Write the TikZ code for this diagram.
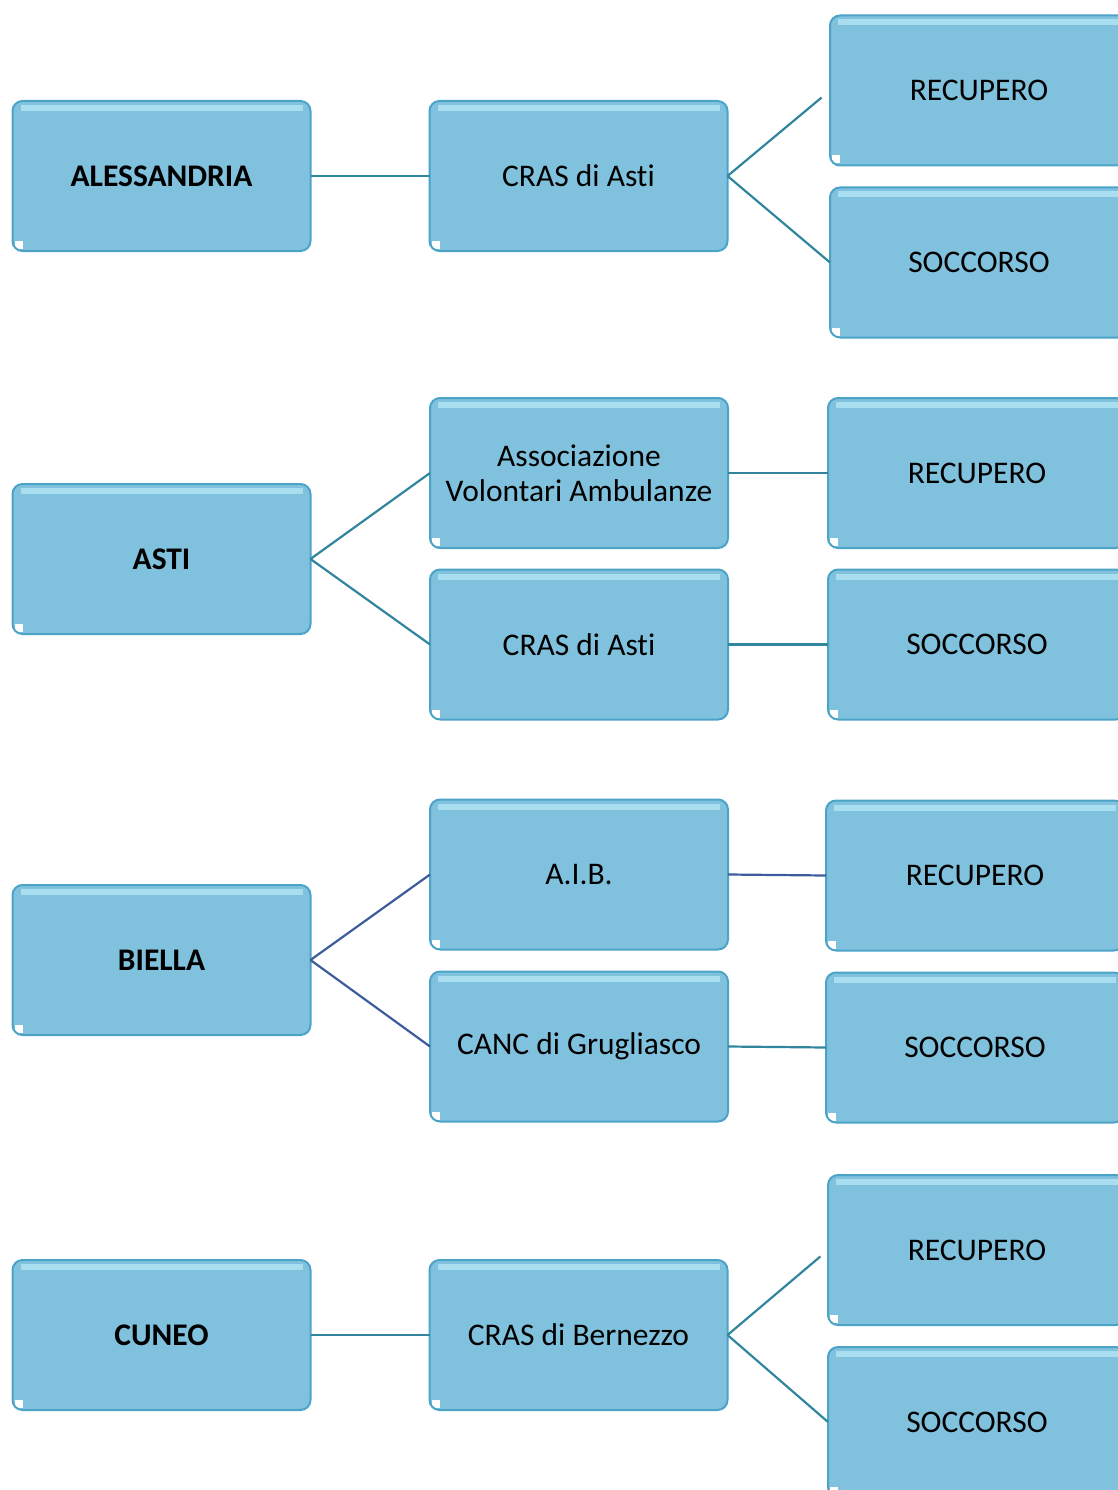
\documentclass[tikz,border=0pt]{standalone}
\usepackage{fontspec}
\setmainfont{Carlito}[Ligatures=NoCommon]
\usetikzlibrary{positioning}
\definecolor{boxfill}{HTML}{80C1DD}
\definecolor{boxline}{HTML}{4BA3C8}
\definecolor{boxshine}{HTML}{A9DDF0}
\definecolor{linkteal}{HTML}{31859C}
\definecolor{linknavy}{HTML}{3D5C9E}
\begin{document}
\begin{tikzpicture}[x=1pt, y=1pt,
    orgbox/.style={draw=boxline, fill=boxfill, rounded corners=10pt, line width=2pt, align=center,
        minimum width=298pt, minimum height=150pt, inner sep=2pt, outer sep=0pt,
        font=\fontsize{31.5}{35}\selectfont,
        path picture={
            \fill[boxshine, sharp corners] ([xshift=8pt, yshift=-4pt]path picture bounding box.north west) rectangle ([xshift=-8pt, yshift=-10pt]path picture bounding box.north east);
            \fill[white, sharp corners] ([xshift=2pt, yshift=2pt]path picture bounding box.south west) rectangle ([xshift=10pt, yshift=10pt]path picture bounding box.south west);
        }},
    headbox/.style={orgbox, font=\fontsize{31.5}{35}\selectfont\bfseries},
    link/.style={line width=2.2pt, color=linkteal},
    navylink/.style={line width=2.2pt, color=linknavy}
]
\useasboundingbox (0,0) rectangle (1118,-1490);
\node[headbox] (a1) at (161.5,-176) {ALESSANDRIA};
\node[orgbox, right=119pt of a1] (m1) {CRAS di Asti};
\node[orgbox] (r1) at (979,-90.5) {RECUPERO};
\node[orgbox] (s1) at (979,-262.5) {SOCCORSO};
\draw[link] (a1) -- (m1);
\draw[link, shorten >=11pt] (m1.east) -- (r1.west);
\draw[link] (m1.east) -- (s1.west);
\node[headbox] (a2) at (161.5,-559) {ASTI};
\node[orgbox] (m2a) at (579,-473) {Associazione\\Volontari Ambulanze};
\node[orgbox] (m2b) at (579,-644.5) {CRAS di Asti};
\node[orgbox, right=100pt of m2a] (r2) {RECUPERO};
\node[orgbox, right=100pt of m2b] (s2) {SOCCORSO};
\draw[link] (a2.east) -- (m2a.west);
\draw[link] (a2.east) -- (m2b.west);
\draw[link] (m2a) -- (r2);
\draw[link] (m2b) -- (s2);
\node[headbox] (a3) at (161.5,-960) {BIELLA};
\node[orgbox] (m3a) at (579,-874.5) {A.I.B.};
\node[orgbox] (m3b) at (579,-1046.5) {CANC di Grugliasco};
\node[orgbox] (r3) at (975,-875.5) {RECUPERO};
\node[orgbox] (s3) at (975,-1047.5) {SOCCORSO};
\draw[navylink] (a3.east) -- (m3a.west);
\draw[navylink] (a3.east) -- (m3b.west);
\draw[navylink] (m3a.east) -- (r3.west);
\draw[link] (m3b.east) -- (s3.west);
\node[headbox] (a4) at (161.5,-1335) {CUNEO};
\node[orgbox, right=119pt of a4] (m4) {CRAS di Bernezzo};
\node[orgbox] (r4) at (977,-1250) {RECUPERO};
\node[orgbox] (s4) at (977,-1422) {SOCCORSO};
\draw[link] (a4) -- (m4);
\draw[link, shorten >=10pt] (m4.east) -- (r4.west);
\draw[link] (m4.east) -- (s4.west);
\end{tikzpicture}
\end{document}
